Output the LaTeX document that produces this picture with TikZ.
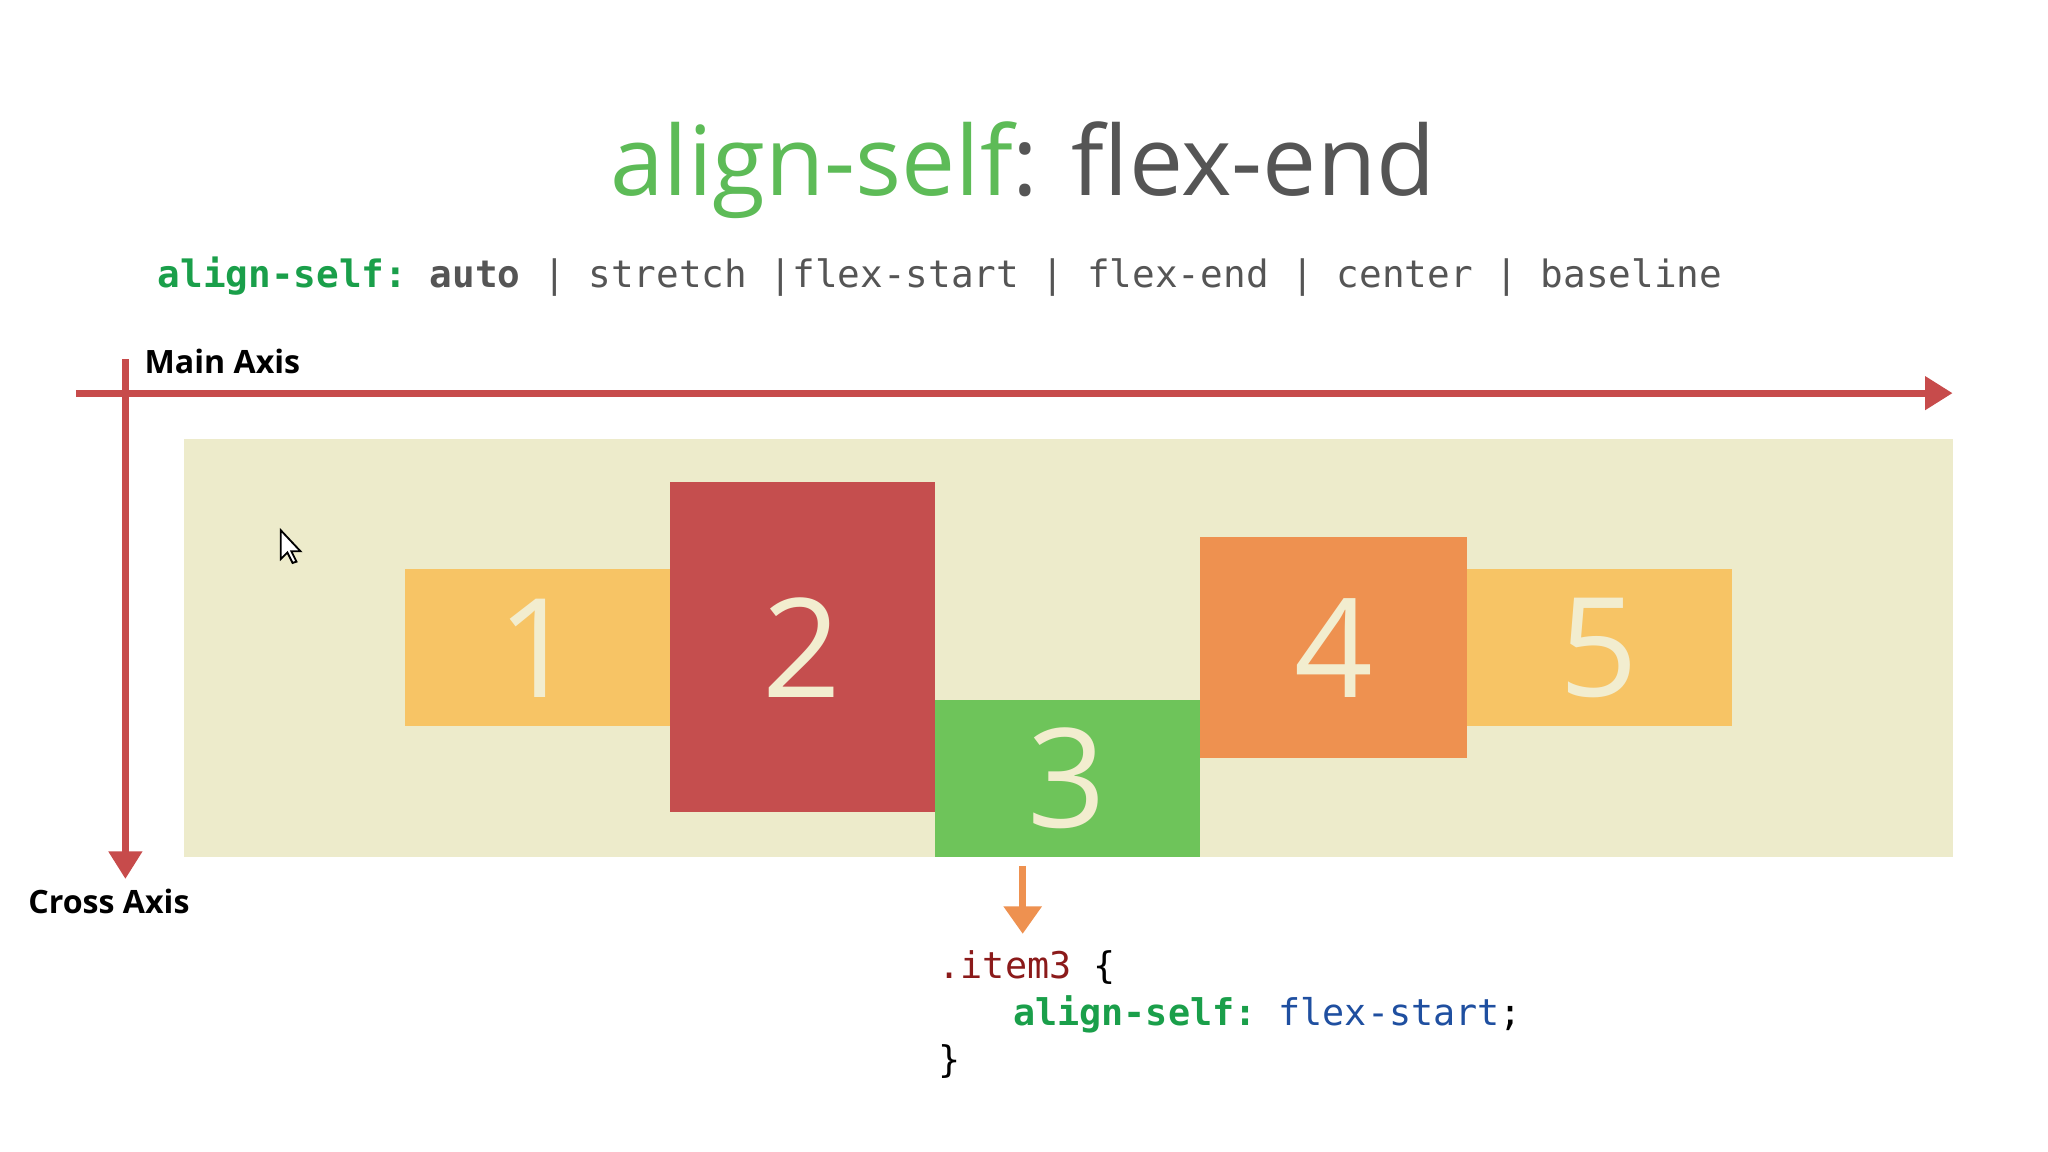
\documentclass[tikz,border=0pt]{standalone}
\usepackage{fontspec}
\setmainfont{Open Sans}
\setmonofont{DejaVu Sans Mono}
\usetikzlibrary{arrows.meta}
\definecolor{tgreen}{HTML}{5DBB57}
\definecolor{tgray}{HTML}{555555}
\definecolor{cgreen}{HTML}{1A9F4A}
\definecolor{axred}{HTML}{C74B4B}
\definecolor{bg}{HTML}{EDEBCB}
\definecolor{cyel}{HTML}{F7C465}
\definecolor{cred}{HTML}{C54E4E}
\definecolor{cgr}{HTML}{6EC45A}
\definecolor{cor}{HTML}{EE9150}
\definecolor{cream}{HTML}{F2EDCF}
\definecolor{dred}{HTML}{8B1A1A}
\definecolor{cblue}{HTML}{1F4FA0}
\tikzset{
 item/.style={fill=#1,draw=none,inner sep=0},
 num/.style={text=cream,font=\fontsize{30}{30}\selectfont},
 axis/.style={axred,line width=1.5pt,-{Triangle[length=6pt,width=7pt]}},
 code/.style={anchor=west,inner sep=0,font=\ttfamily\fontsize{8}{8}\selectfont}
}
\begin{document}
\begin{tikzpicture}[x=0.01cm,y=-0.01cm]
\useasboundingbox[fill=white] (0,0) rectangle (1568,882);
\node (title) at (783,130) {\fontsize{21}{21}\selectfont\color{tgreen}align-self\color{tgray}: flex-end};
\node[code,font=\ttfamily\fontsize{8.2}{8.2}\selectfont,text=tgray] (sub) at (120,212) {\textbf{\color{cgreen}align-self:} \textbf{auto} | stretch |flex-start | flex-end | center | baseline};
\fill[bg] (141,336) rectangle (1495,656);
\coordinate (ma0) at (58,301); \coordinate (ma1) at (1495,301);
\coordinate (ca0) at (96,275); \coordinate (ca1) at (96,673);
\draw[axis] (ma0) -- (ma1);
\draw[axis] (ca0) -- (ca1);
\node[anchor=west,inner sep=0,font=\bfseries\fontsize{7}{7}\selectfont] (mlab) at (110,277) {Main Axis};
\node[anchor=west,inner sep=0,font=\bfseries\fontsize{7}{7}\selectfont] (clab) at (21,690) {Cross Axis};
\fill[cyel] (310,436) rectangle (513,556); \node[num] (n1) at (411,496) {1};
\fill[cred] (513,369) rectangle (716,622); \node[num] (n2) at (614,496) {2};
\fill[cgr] (716,536) rectangle (919,656); \node[num] (n3) at (817,596) {3};
\fill[cor] (919,411) rectangle (1123,580); \node[num] (n4) at (1021,496) {4};
\fill[cyel] (1123,436) rectangle (1326,556); \node[num] (n5) at (1224,496) {5};
\coordinate (oa0) at (783,663); \coordinate (oa1) at (783,715);
\draw[cor,line width=1.5pt,-{Triangle[length=6pt,width=8pt]}] (oa0) -- (oa1);
\node[code] (c1) at (718,741) {{\color{dred}.item3} \{};
\node[code] (c2) at (775,777) {\textbf{\color{cgreen}align-self:} {\color{cblue}flex-start};};
\node[code] (c3) at (718,813) {\}};
\draw[fill=white,line width=0.4pt] (215,406) -- (215,428) -- (220,423) -- (224,431) -- (227,430) -- (223,422) -- (230,422) -- cycle;
\end{tikzpicture}
\end{document}
